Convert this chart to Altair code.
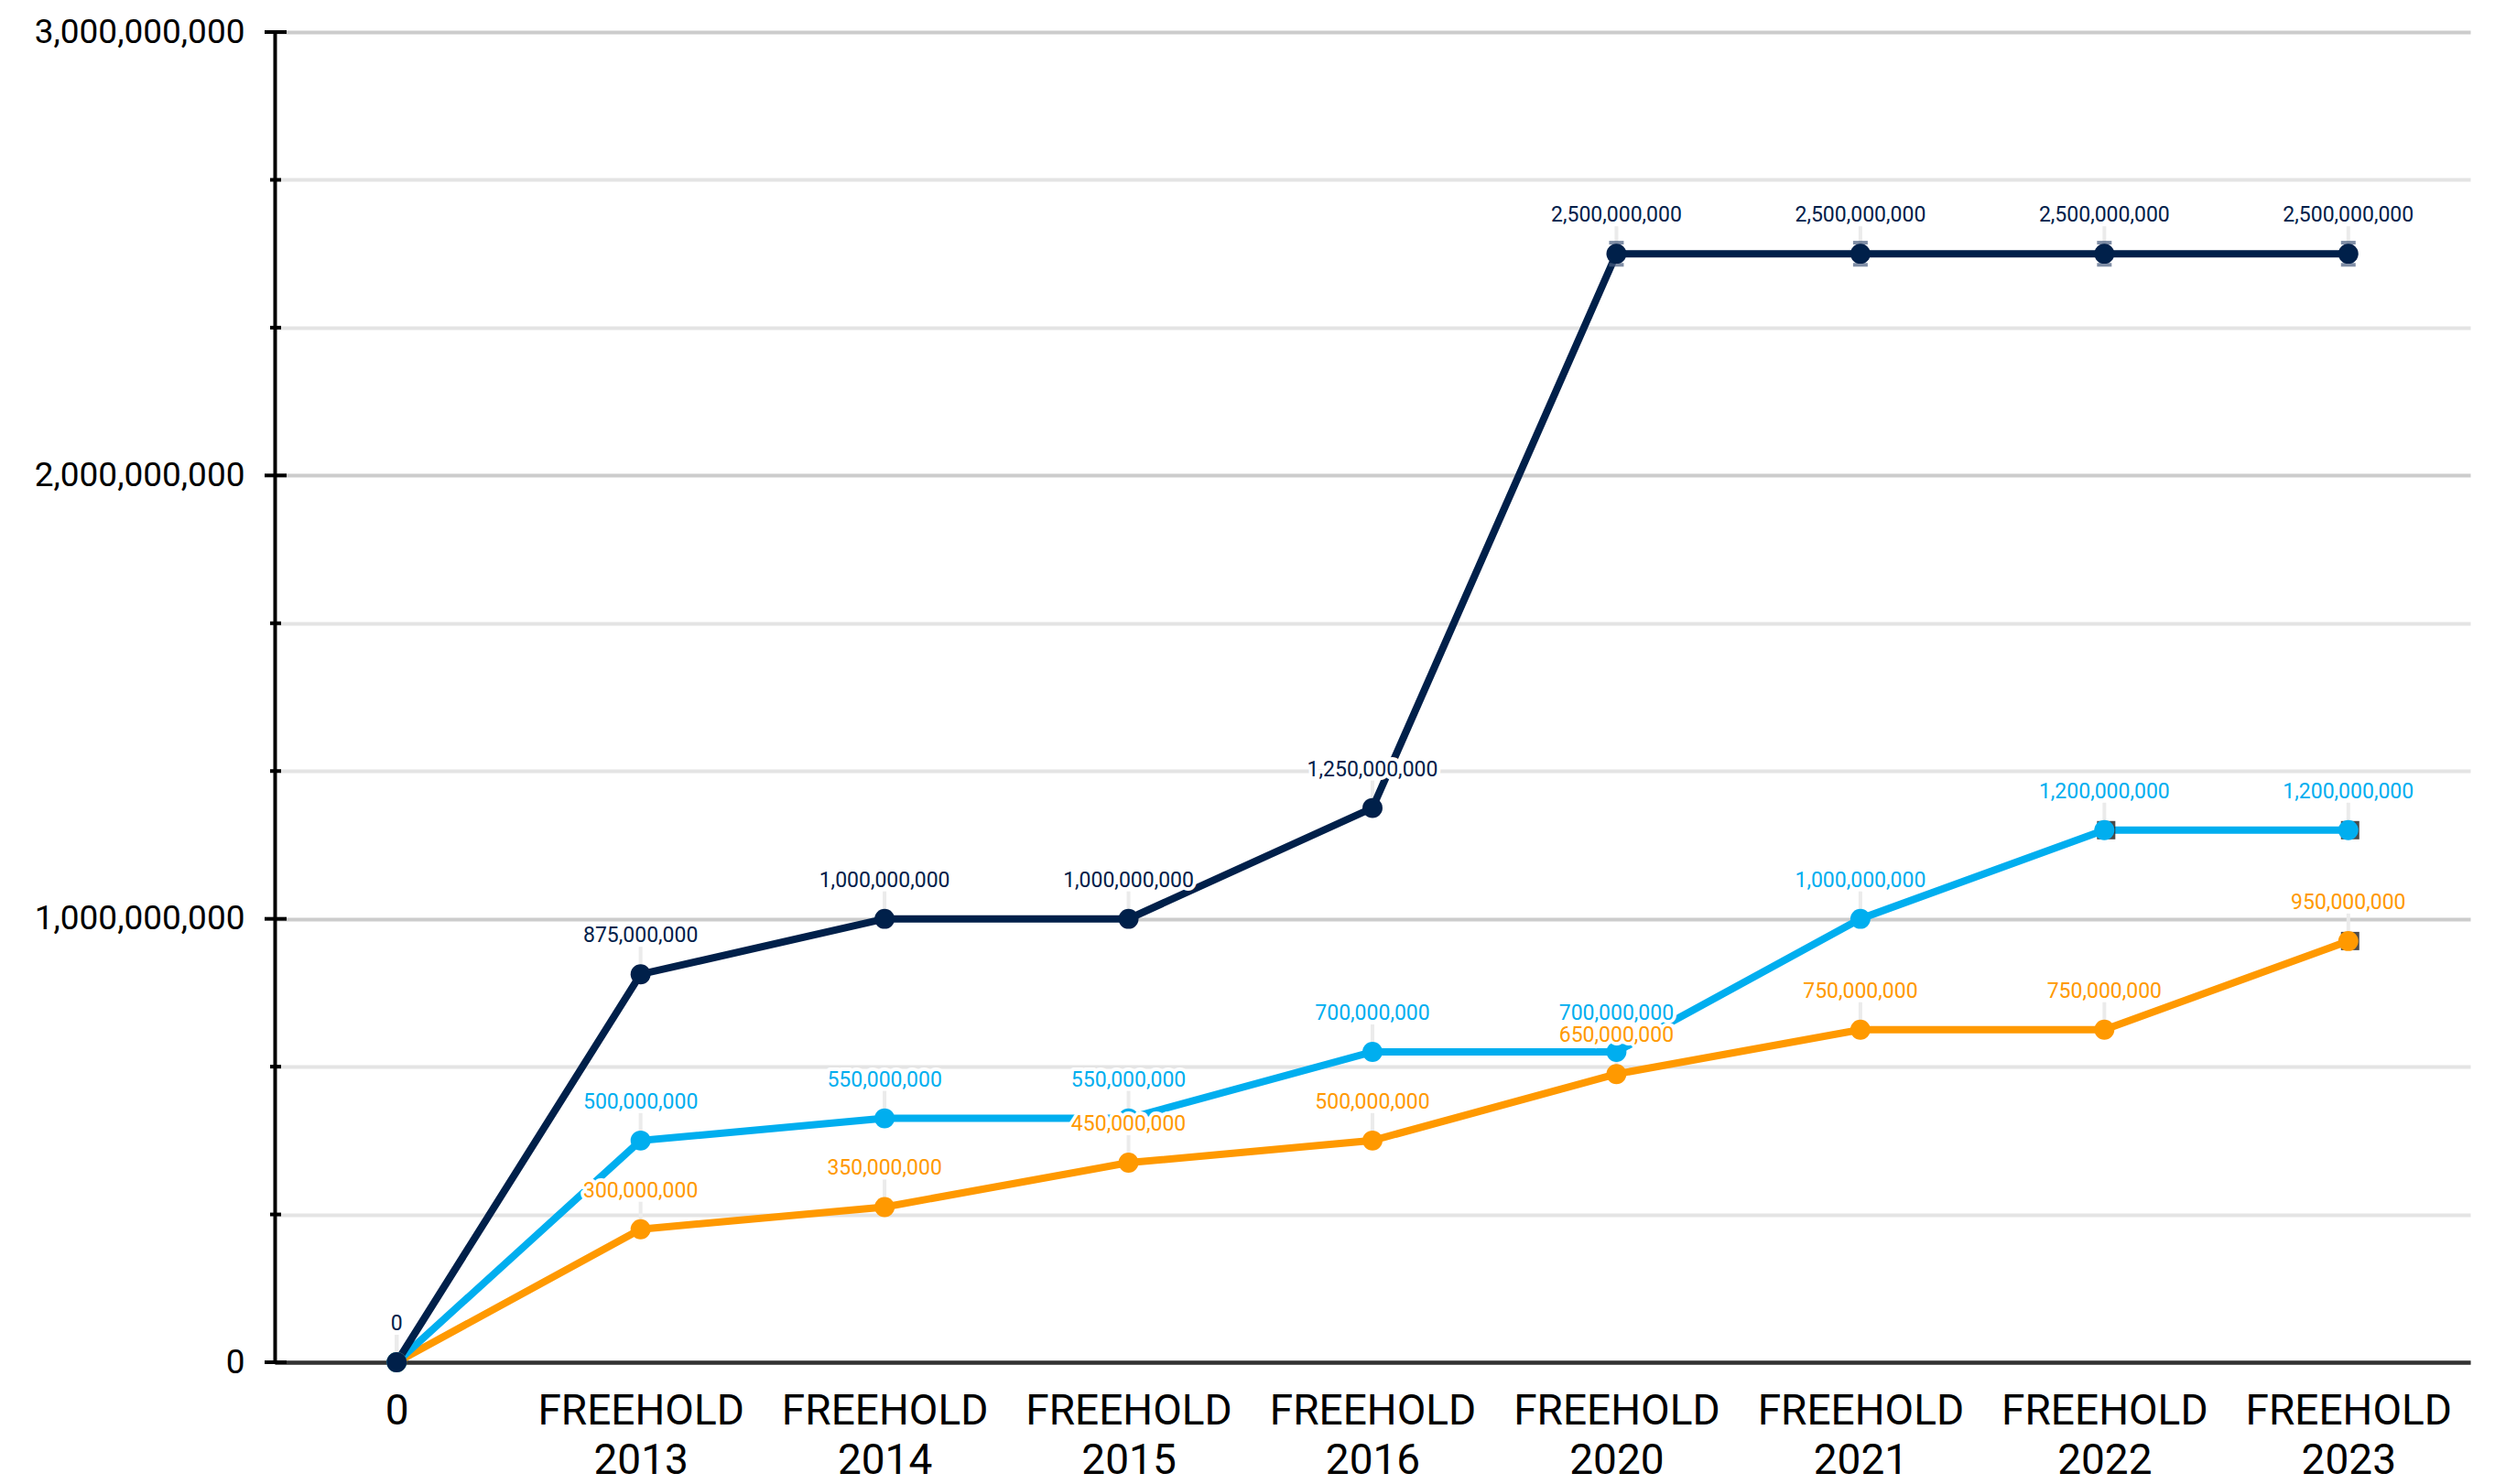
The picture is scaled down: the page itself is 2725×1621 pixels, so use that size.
import altair as alt
import pandas as pd

categories = ["0", "FREEHOLD 2013", "FREEHOLD 2014", "FREEHOLD 2015", "FREEHOLD 2016",
              "FREEHOLD 2020", "FREEHOLD 2021", "FREEHOLD 2022", "FREEHOLD 2023"]
navy_values = [0, 875000000, 1000000000, 1000000000, 1250000000,
               2500000000, 2500000000, 2500000000, 2500000000]
blue_values = [0, 500000000, 550000000, 550000000, 700000000,
               700000000, 1000000000, 1200000000, 1200000000]
orange_values = [0, 300000000, 350000000, 450000000, 500000000,
                 650000000, 750000000, 750000000, 950000000]
navy_err = [0, 0, 0, 0, 0, 25000000, 25000000, 25000000, 25000000]
# small dark square markers visible behind some points
orange_marker = [0, 0, 0, 0, 0, 0, 0, 0, 1]
blue_marker = [0, 0, 0, 0, 0, 0, 0, 1, 1]
navy_marker = [0, 0, 0, 0, 0, 0, 0, 0, 0]

series_names = ["Orange", "Blue", "Navy"]          # drawing order (navy on top)
series_colors = ["#FF9900", "#00AEEF", "#00204A"]
y_ticks = [0, 1e9 / 3, 2e9 / 3, 1e9, 4e9 / 3, 5e9 / 3, 2e9, 7e9 / 3, 8e9 / 3, 3e9]

rows = []
for name, vals, marks in zip(series_names, [orange_values, blue_values, navy_values],
                             [orange_marker, blue_marker, navy_marker]):
    for c, v, m in zip(categories, vals, marks):
        rows.append({"cat": c, "value": v, "series": name, "marker": m})
df = pd.DataFrame(rows)

caps = []
for c, v, e in zip(categories, navy_values, navy_err):
    if e > 0:
        caps.append({"cat": c, "value": v + e})
        caps.append({"cat": c, "value": v - e})
caps_df = pd.DataFrame(caps)

major_test = "abs(datum.value - round(datum.value / 1e9) * 1e9) < 1"
ticks_df = pd.DataFrame({"value": y_ticks})

FONT = "Roboto"

x_enc = alt.X(
    "cat:N", sort=categories,
    scale=alt.Scale(type="point", padding=0.5),
    axis=alt.Axis(
        title=None, labelExpr="split(datum.label, ' ')", labelFont=FONT,
        labelFontSize=46, labelLineHeight=54, labelColor="#000000", labelLimit=0,
        labelAngle=0, ticks=False, tickSize=0, labelPadding=31,
        domainColor="#333333", domainWidth=4.5, grid=False, labelOverlap=False,
    ),
)
y_scale = alt.Scale(domain=[0, 3e9], nice=False, zero=True)
y_enc = alt.Y(
    "value:Q", scale=y_scale,
    axis=alt.Axis(
        title=None, values=y_ticks,
        labelExpr=f"({major_test}) ? format(datum.value, ',.0f') : ''",
        labelFont=FONT, labelFontSize=37, labelColor="#000000", labelLimit=0,
        ticks=False, tickSize=0, labelPadding=33, labelOverlap=False, labelFlush=False,
        domainColor="#000000", domainWidth=4,
        grid=True, gridWidth=4,
        gridColor={"condition": {"test": major_test, "value": "#cccccc"}, "value": "#e4e4e4"},
    ),
)
y_plain = alt.Y("value:Q", scale=y_scale)

base = alt.Chart(df)

layers = []
# crossing y ticks
layers.append(
    alt.Chart(ticks_df).transform_filter(major_test).mark_rule(color="#000000", strokeWidth=4)
    .encode(y=y_enc, x=alt.value(-11), x2=alt.value(13))
)
layers.append(
    alt.Chart(ticks_df).transform_filter("!(" + major_test + ")").mark_rule(color="#000000", strokeWidth=4)
    .encode(y=y_plain, x=alt.value(-5), x2=alt.value(7))
)
# leader lines
layers.append(
    base.mark_rule(color="#ebebeb", strokeWidth=4, yOffset=-30, y2Offset=-6)
    .encode(x=x_enc, y=y_plain, y2=alt.Y2("value"))
)
# lines
for name, col in zip(series_names, series_colors):
    layers.append(
        base.transform_filter(alt.datum.series == name)
        .mark_line(color=col, strokeWidth=8)
        .encode(x=x_enc, y=y_plain)
    )
# error caps
layers.append(
    alt.Chart(caps_df).mark_tick(color="#4a5e80", thickness=4, size=16)
    .encode(x=x_enc, y=y_plain)
)
# dark square markers behind some points
layers.append(
    base.transform_filter(alt.datum.marker == 1)
    .mark_square(color="#2a2a2a", size=400, opacity=0.85, xOffset=2)
    .encode(x=x_enc, y=y_plain)
)
# points
for name, col in zip(series_names, series_colors):
    layers.append(
        base.transform_filter(alt.datum.series == name)
        .mark_circle(color=col, size=480, opacity=1)
        .encode(x=x_enc, y=y_plain)
    )
# labels with halo
for name, col in zip(series_names, series_colors):
    sub = base.transform_filter(alt.datum.series == name)
    layers.append(
        sub.mark_text(font=FONT, fontSize=23, dy=-35, baseline="alphabetic",
                      stroke="#ffffff", strokeWidth=8, strokeJoin="round", color="#ffffff")
        .encode(x=x_enc, y=y_plain, text=alt.Text("value:Q", format=",.0f"))
    )
    layers.append(
        sub.mark_text(font=FONT, fontSize=23, dy=-35, baseline="alphabetic", color=col)
        .encode(x=x_enc, y=y_plain, text=alt.Text("value:Q", format=",.0f"))
    )

chart = alt.layer(*layers).properties(
    width=2398, height=1453,
    autosize=alt.AutoSizeParams(type="none"),
    padding={"left": 292, "top": 27, "right": 19, "bottom": 133},
    background="#ffffff",
).configure_view(stroke=None)

chart.save("out.html", embed_options={"renderer": "svg", "actions": False})
